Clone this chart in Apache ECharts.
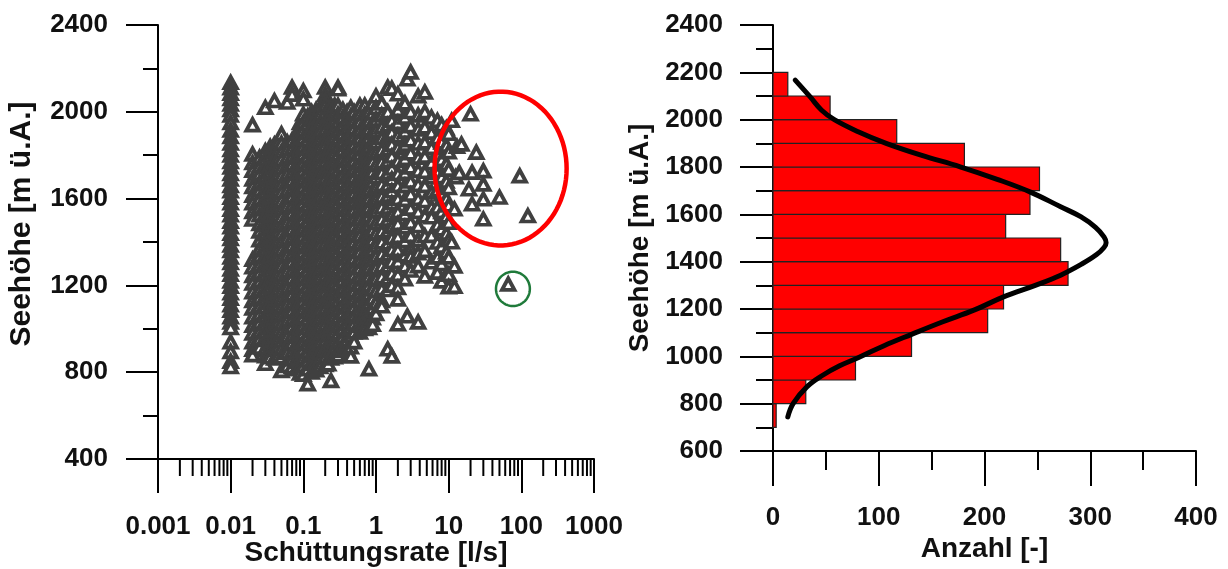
<!DOCTYPE html>
<html>
<head>
<meta charset="utf-8">
<script src="https://cdn.jsdelivr.net/npm/echarts@6/dist/echarts.min.js"></script>
<style>
html,body{margin:0;padding:0;background:#fff;}
#chart{width:1228px;height:569px;}
</style>
</head>
<body>
<div id="chart"></div>
<script>
// ---------------- Data ----------------
// Left panel: Schüttungsrate [l/s] vs Seehöhe [m ü.A.]
const xTickLabels = ['0.001', '0.01', '0.1', '1', '10', '100', '1000'];
const logMinorTicks = [0.002,0.003,0.004,0.005,0.006,0.007,0.008,0.009,
  0.02,0.03,0.04,0.05,0.06,0.07,0.08,0.09,
  0.2,0.3,0.4,0.5,0.6,0.7,0.8,0.9,
  2,3,4,5,6,7,8,9,
  20,30,40,50,60,70,80,90,
  200,300,400,500,600,700,800,900];

// column of springs at the 0.01 l/s detection value
const rate001Elev = [2135,2110,2085,2060,2035,2010,1985,1950,1915,1885,1855,1825,1800,1770,1745,1715,1690,1660,1635,1605,1580,1550,1525,1495,1470,1440,1415,1385,1360,1330,1305,1275,1250,1220,1195,1165,1140,1110,1085,1055,1030,1005,940,895,850,825];

// discharge values of the main cloud and the elevations read in each column
const cloudRates = [0.02,0.025,0.03,0.035,0.04,0.045,0.05,0.06,0.07,0.08,0.09,0.1,0.115,0.13,0.15,0.17,0.2,0.22,0.24,0.27,0.3,0.35,0.4,0.45,0.5,0.6,0.7,0.8,0.9];
const cloudElev = [
  [1940,1805,1765,1730,1690,1655,1615,1580,1540,1505,1320,1285,1245,1210,1170,1130,1095,1055,1015,980,940,905,880],
  [1790,1750,1715,1675,1640,1600,1560,1525,1485,1450,1410,1370,1335,1295,1260,1220,1180,1145,1105,1070,1030,990,955,915],
  [2020,1820,1785,1745,1705,1670,1630,1595,1555,1520,1480,1440,1405,1365,1330,1290,1250,1215,1175,1140,1100,1060,1025,985,950,910,875,840],
  [1840,1800,1760,1725,1685,1650,1610,1570,1535,1495,1460,1420,1385,1345,1305,1270,1230,1195,1155,1120,1080,1040,1005,965,930,890,870],
  [2051,1850,1815,1775,1740,1700,1660,1625,1585,1550,1510,1475,1435,1395,1360,1320,1285,1245,1210,1170,1130,1095,1055,1020,980,945,905,865],
  [1860,1820,1785,1745,1710,1670,1635,1595,1555,1520,1480,1445,1405,1370,1330,1290,1255,1215,1180,1140,1105,1065,1030,990,950,915,875],
  [1898,1855,1815,1780,1740,1705,1665,1630,1590,1550,1515,1475,1440,1400,1365,1325,1290,1250,1210,1175,1135,1100,1060,1025,985,945,910,870,807],
  [2044,1860,1825,1790,1750,1715,1675,1640,1600,1565,1525,1490,1450,1415,1375,1340,1300,1265,1225,1190,1150,1115,1075,1040,1000,965,925,890,850,830],
  [2113,2080,1870,1830,1795,1760,1720,1685,1645,1610,1570,1535,1495,1460,1420,1385,1345,1310,1270,1235,1195,1160,1120,1085,1045,1010,970,935,895,860,825],
  [1900,1865,1825,1790,1750,1715,1675,1640,1600,1565,1525,1490,1450,1415,1375,1340,1300,1265,1225,1190,1150,1115,1075,1040,1000,965,925,890,850,815],
  [1950,1910,1875,1835,1800,1760,1725,1685,1650,1610,1575,1535,1500,1460,1425,1385,1350,1310,1275,1235,1200,1160,1125,1085,1050,1010,975,935,900,860,825,795],
  [2097,2059,1990,1950,1915,1880,1840,1805,1765,1730,1690,1655,1615,1580,1540,1505,1465,1430,1390,1355,1315,1280,1240,1205,1165,1130,1090,1055,1015,980,940,905,865,830,790],
  [1980,1945,1905,1870,1830,1795,1755,1720,1680,1645,1605,1570,1530,1495,1455,1420,1380,1345,1305,1270,1230,1195,1155,1120,1080,1045,1005,970,930,895,855,815,746],
  [2000,1965,1925,1890,1850,1815,1775,1740,1700,1665,1625,1590,1550,1515,1475,1440,1400,1365,1325,1290,1250,1215,1175,1140,1100,1065,1025,990,950,915,875,840,800],
  [2010,1975,1935,1900,1860,1825,1785,1750,1710,1675,1635,1600,1560,1525,1485,1450,1410,1375,1335,1300,1260,1225,1185,1150,1110,1075,1035,1000,960,925,885,850,810],
  [2020,1985,1945,1910,1870,1835,1795,1760,1720,1685,1645,1610,1570,1535,1495,1460,1420,1385,1345,1310,1270,1235,1195,1160,1120,1085,1045,1010,970,935,895,860,825],
  [2113,2080,2055,2030,1995,1955,1920,1880,1845,1805,1770,1730,1695,1655,1620,1580,1545,1505,1470,1430,1395,1355,1320,1280,1245,1205,1170,1130,1095,1055,1020,980,945,905,870,835],
  [2020,1985,1950,1910,1875,1835,1800,1760,1725,1685,1650,1610,1575,1535,1500,1460,1425,1385,1350,1310,1275,1235,1200,1160,1125,1085,1050,1010,975,935,900,838],
  [2025,1990,1950,1915,1875,1840,1800,1765,1725,1690,1650,1615,1575,1540,1500,1465,1425,1390,1350,1315,1275,1240,1200,1165,1125,1090,1050,1015,975,940,900,865,761],
  [2030,1995,1960,1920,1885,1845,1810,1770,1735,1695,1660,1620,1585,1545,1510,1470,1435,1395,1360,1320,1285,1245,1210,1170,1135,1095,1060,1020,985,945,910,870],
  [2113,2105,2030,1990,1955,1915,1880,1840,1805,1765,1730,1690,1655,1615,1580,1540,1505,1465,1430,1390,1355,1315,1280,1240,1205,1165,1130,1090,1055,1015,980,940,905,880],
  [2010,1975,1935,1900,1860,1825,1785,1750,1710,1675,1635,1600,1560,1525,1485,1450,1410,1375,1335,1300,1260,1225,1185,1150,1110,1075,1035,1000,962,925,900],
  [2000,1965,1925,1890,1850,1815,1775,1740,1700,1665,1625,1590,1550,1515,1475,1440,1400,1365,1325,1290,1250,1215,1175,1140,1100,1065,1025,990,950,907],
  [2020,1980,1945,1905,1870,1830,1795,1755,1720,1680,1645,1605,1570,1530,1495,1455,1420,1380,1345,1305,1270,1230,1195,1155,1120,1080,1045,1005,970,916,874],
  [2000,1960,1925,1885,1850,1810,1775,1735,1700,1660,1625,1585,1550,1510,1475,1435,1400,1360,1325,1285,1250,1210,1175,1135,1100,1060,1025,985,940],
  [2030,1990,1955,1915,1880,1840,1805,1765,1730,1690,1655,1615,1580,1540,1505,1465,1430,1390,1355,1315,1280,1240,1205,1165,1130,1090,1055,1015,985],
  [2030,1990,1950,1910,1870,1830,1790,1750,1710,1670,1630,1590,1550,1510,1470,1430,1390,1350,1310,1270,1230,1190,1150,1110,1070,1030,1000],
  [2000,1960,1920,1880,1840,1800,1760,1720,1680,1640,1600,1560,1520,1480,1440,1400,1360,1320,1280,1240,1200,1160,1120,1080,1040,1005,815],
  [2040,1995,1950,1905,1860,1815,1770,1725,1680,1635,1590,1545,1500,1455,1410,1365,1320,1275,1230,1185,1140,1095,1050,1020]
];

// sparser part of the cloud, 1 .. 10 l/s
const sparseRates = [1,1.2,1.45,1.65,2,2.5,2.7,3,3.8,4.7,5.8,7,8,9.3,10];
const sparseElev = [
  [2073,2020,1965,1915,1860,1810,1755,1700,1650,1595,1545,1490,1440,1385,1335,1280,1230,1175,1120,1070],
  [2040,1985,1930,1880,1825,1770,1720,1665,1610,1560,1505,1450,1400,1345,1290,1240,1185,1130,1105],
  [2113,2000,1940,1890,1830,1775,1720,1665,1615,1560,1505,1450,1395,1345,1290,1235,1180,907],
  [2108,1960,1905,1850,1795,1740,1690,1635,1580,1525,1470,1420,1365,1310,1255,1200,874],
  [2082,2010,1950,1890,1835,1775,1715,1660,1600,1540,1485,1425,1365,1310,1250,1190,1137,1022],
  [2040,1975,1910,1850,1785,1720,1660,1595,1530,1470,1405,1340,1289,1230],
  [2151,1059],
  [2183,2000,1935,1870,1810,1745,1680,1620,1555,1490,1430,1368,1335,1270],
  [2073,1985,1920,1855,1790,1730,1665,1600,1540,1475,1410,1350,1290,1031],
  [2091,2000,1930,1860,1795,1725,1660,1590,1520,1429,1360,1243],
  [1975,1905,1835,1765,1700,1630,1560,1515,1430,1308],
  [1960,1880,1800,1720,1640,1560,1480,1399,1330,1260],
  [1940,1860,1780,1700,1620,1540,1460,1380,1300,1220],
  [1925,1845,1760,1680,1600,1520,1440,1354,1252],
  [1900,1815,1735,1650,1570,1490,1410,1330,1250,1193]
];

// individual high-discharge springs
const outlierRates = [11,12,12,12.5,13,14,15,20,24,21,30,95,19,30,50,30,21,30,123,66,11,12];
const outlierElev  = [1960,1552,1289,1700,1840,1720,1851,1990,1813,1721,1728,1705,1644,1667,1606,1598,1575,1506,1521,1206,1400,1195];

// Right panel: histogram of elevations (100 m bins)
const binLower = [700,800,900,1000,1100,1200,1300,1400,1500,1600,1700,1800,1900,2000,2100];
const binCount = [3,31,78,131,203,218,279,272,220,243,252,181,117,54,14];
// fitted normal curve: [Anzahl, Seehöhe]
const curveCount = [14,19,32,47,63,82,105,131,160,190,218,248,272,292,306,313,315,313,305,291,272,243,212,177,140,107,80,58,46,35,21];
const curveElev  = [744,800,871,920,960,997,1045,1093,1145,1195,1251,1300,1343,1390,1430,1460,1480,1505,1545,1590,1632,1695,1748,1801,1850,1900,1950,2000,2040,2097,2167];

// annotation shapes (data-space bounding boxes)
const redEllipseBox = {x0: 6.4, x1: 420, y0: 1384, y1: 2093};
const greenCircleBox = {x0: 44.8, x1: 131, y0: 1105, y1: 1263};

// ---------------- Build ----------------
const scatterData = [];
rate001Elev.forEach(e => scatterData.push([0.01, e]));
cloudRates.forEach((r, i) => cloudElev[i].forEach(e => scatterData.push([r, e])));
sparseRates.forEach((r, i) => sparseElev[i].forEach(e => scatterData.push([r, e])));
outlierRates.forEach((r, i) => scatterData.push([r, outlierElev[i]]));

const histData = binLower.map((lo, i) => [lo, lo + 100, binCount[i]]);
const curveData = curveCount.map((c, i) => [c, curveElev[i]]);

const FONT = "'Liberation Sans', Arial, Helvetica, sans-serif";
const labelStyle = {fontFamily: FONT, fontWeight: 'bold', fontSize: 26, color: '#111'};
const nameStyle = {fontFamily: FONT, fontWeight: 'bold', fontSize: 28, color: '#111'};
const lineStyle = {color: '#000', width: 2};
const plain = v => String(v);

const chart = echarts.init(document.getElementById('chart'), null, {renderer: 'canvas'});

const option = {
  animation: false,
  backgroundColor: '#fff',
  grid: [
    {left: 158, top: 25, width: 436, height: 434, outerBoundsMode: 'none', containLabel: false},
    {left: 773, top: 25, width: 423, height: 426, outerBoundsMode: 'none', containLabel: false}
  ],
  xAxis: [
    {
      gridIndex: 0, type: 'log', logBase: 10, min: 0.001, max: 1000, splitNumber: 6,
      name: 'Schüttungsrate [l/s]', nameLocation: 'middle', nameGap: 80, nameMoveOverlap: false,
      nameTextStyle: nameStyle,
      axisLine: {show: true, onZero: false, lineStyle: lineStyle},
      axisTick: {show: true, length: 34, lineStyle: lineStyle},
      axisLabel: Object.assign({margin: 55, formatter: v => xTickLabels[Math.round(Math.log10(v)) + 3]}, labelStyle),
      splitLine: {show: false}
    },
    {
      gridIndex: 1, type: 'value', min: 0, max: 400, interval: 100,
      name: 'Anzahl [-]', nameLocation: 'middle', nameGap: 84, nameMoveOverlap: false,
      nameTextStyle: nameStyle,
      axisLine: {show: true, onZero: false, lineStyle: lineStyle},
      axisTick: {show: true, length: 35, lineStyle: lineStyle},
      minorTick: {show: true, splitNumber: 2, length: 19, lineStyle: lineStyle},
      axisLabel: Object.assign({margin: 54, formatter: plain}, labelStyle),
      splitLine: {show: false}
    }
  ],
  yAxis: [
    {
      gridIndex: 0, type: 'value', min: 400, max: 2400, interval: 400,
      name: 'Seehöhe [m ü.A.]', nameLocation: 'middle', nameGap: 121, nameMoveOverlap: false,
      nameTextStyle: Object.assign({}, nameStyle, {fontSize: 30, padding: [0, 0, 0, 36]}),
      axisLine: {show: true, onZero: false, lineStyle: lineStyle},
      axisTick: {show: true, length: 32, lineStyle: lineStyle},
      minorTick: {show: true, splitNumber: 2, length: 15, lineStyle: lineStyle},
      axisLabel: Object.assign({margin: 50, formatter: plain}, labelStyle),
      splitLine: {show: false}
    },
    {
      gridIndex: 1, type: 'value', min: 600, max: 2400, interval: 200,
      name: 'Seehöhe [m ü.A.]', nameLocation: 'middle', nameGap: 119, nameMoveOverlap: false,
      nameTextStyle: nameStyle,
      axisLine: {show: true, onZero: false, lineStyle: lineStyle},
      axisTick: {show: true, length: 33, lineStyle: lineStyle},
      minorTick: {show: true, splitNumber: 2, length: 17, lineStyle: lineStyle},
      axisLabel: Object.assign({margin: 50, formatter: plain}, labelStyle),
      splitLine: {show: false}
    }
  ],
  series: [
    {
      type: 'custom', xAxisIndex: 0, yAxisIndex: 0, silent: true, clip: false,
      data: logMinorTicks.map(v => [v, 400]),
      renderItem: function (params, api) {
        const p = api.coord([api.value(0), api.value(1)]);
        return {type: 'line', shape: {x1: p[0], y1: p[1], x2: p[0], y2: p[1] + 17},
                style: {stroke: '#000', lineWidth: 2}};
      }
    },
    {
      type: 'scatter', xAxisIndex: 0, yAxisIndex: 0, silent: true,
      symbol: 'triangle', symbolSize: [12.5, 11.5],
      itemStyle: {color: '#ffffff', borderColor: '#404040', borderWidth: 3.8, opacity: 1},
      data: scatterData
    },
    {
      type: 'custom', xAxisIndex: 1, yAxisIndex: 1, silent: true,
      encode: {x: 2, y: [0, 1]},
      data: histData,
      renderItem: function (params, api) {
        const pTop = api.coord([0, api.value(1)]);
        const pBot = api.coord([api.value(2), api.value(0)]);
        return {type: 'rect',
                shape: {x: pTop[0], y: pTop[1], width: pBot[0] - pTop[0], height: pBot[1] - pTop[1]},
                style: {fill: '#ff0000', stroke: '#222', lineWidth: 1.2}};
      }
    },
    {
      type: 'line', xAxisIndex: 1, yAxisIndex: 1, silent: true,
      data: curveData, smooth: 0.4, symbol: 'none',
      lineStyle: {color: '#000', width: 5, cap: 'round'}
    }
  ]
};
chart.setOption(option);

function ellipseFromBox(box) {
  const a = chart.convertToPixel({gridIndex: 0}, [box.x0, box.y0]);
  const b = chart.convertToPixel({gridIndex: 0}, [box.x1, box.y1]);
  const cx = (a[0] + b[0]) / 2, cy = (a[1] + b[1]) / 2;
  const rx = Math.abs(b[0] - a[0]) / 2, ry = Math.abs(b[1] - a[1]) / 2;
  const pts = [];
  for (let i = 0; i < 90; i++) {
    const t = i / 90 * Math.PI * 2;
    pts.push([cx + rx * Math.cos(t), cy + ry * Math.sin(t)]);
  }
  return pts;
}

chart.setOption({
  graphic: [
    {type: 'polygon', silent: true, z: 100, shape: {points: ellipseFromBox(redEllipseBox)},
     style: {fill: 'none', stroke: '#ff0000', lineWidth: 4.5}},
    {type: 'polygon', silent: true, z: 100, shape: {points: ellipseFromBox(greenCircleBox)},
     style: {fill: 'none', stroke: '#1f7a3a', lineWidth: 2.5}}
  ]
});
</script>
</body>
</html>
